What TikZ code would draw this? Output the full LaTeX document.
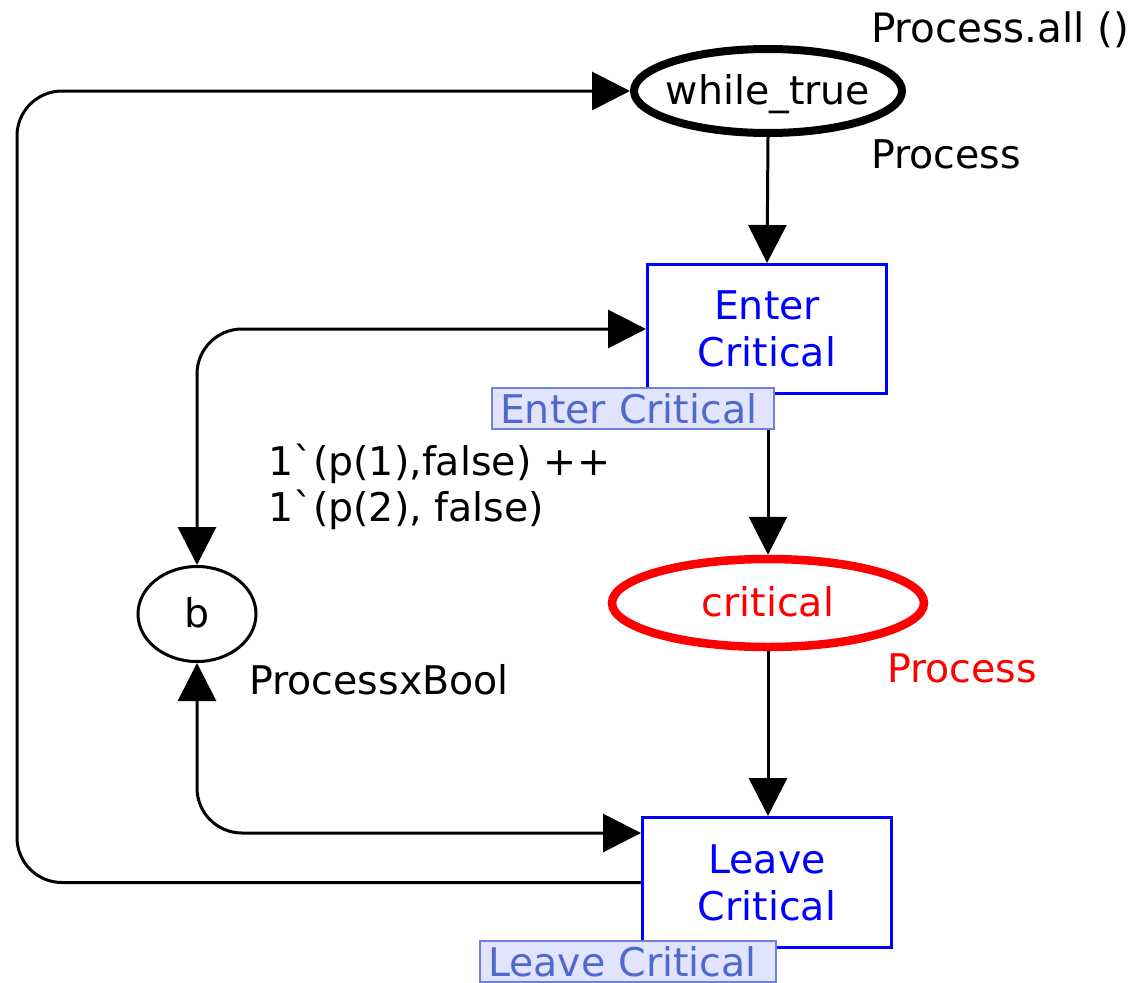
\documentclass[tikz,border=0pt]{standalone}
\usepackage{fontspec}
\setmainfont{DejaVu Sans}
% same face without the TeX quote mapping, for the literal grave accent
\newfontfamily\rawfont{DejaVu Sans}
\usetikzlibrary{arrows.meta,shapes.geometric}

\definecolor{transblue}{RGB}{0,0,255}
\definecolor{placered}{RGB}{255,0,0}
\definecolor{tagfill}{RGB}{225,228,252}
\definecolor{tagdraw}{RGB}{110,130,220}
\definecolor{tagtext}{RGB}{80,105,205}

% plain grave accent, as used in multiset notation
\newcommand{\msq}{{\rawfont\symbol{96}}}

\tikzset{
  big/.style={font=\fontsize{39.5}{47}\selectfont},
  place/.style={ellipse, draw, big, inner xsep=-10pt, inner ysep=0pt,
    text height=28pt, text depth=2pt},
  trans/.style={rectangle, draw=transblue, text=transblue, line width=3pt, big,
    align=center, inner sep=0pt},
  tag/.style={rectangle, draw=tagdraw, fill=tagfill, text=tagtext, line width=1.5pt,
    big, align=left, inner xsep=8pt, inner ysep=0pt, minimum height=41pt,
    text height=29pt, text depth=0pt},
  inscr/.style={big, inner sep=0pt, anchor=base west},
  arc/.style={line width=3pt, rounded corners=45pt,
    -{Triangle[length=38pt,width=38pt]}},
  biarc/.style={line width=3pt, rounded corners=45pt,
    {Triangle[length=38pt,width=38pt]}-{Triangle[length=38pt,width=38pt]}}
}

\begin{document}
\begin{tikzpicture}[x=1pt, y=-1pt]
\useasboundingbox (0,0) rectangle (1139,982);

% places
\node[place, line width=8pt, minimum width=268pt, minimum height=84pt] (while) at (768,91) {while\_true};
\node[place, draw=placered, text=placered, line width=8.5pt, minimum width=312pt, minimum height=88pt] (critical) at (768,603) {critical};
\node[place, line width=3pt, minimum width=118pt, minimum height=95pt] (b) at (197,614) {b};

% transitions
\node[trans, minimum width=239pt, minimum height=129pt] (enter) at (767,329) {Enter\\Critical};
\node[trans, minimum width=249pt, minimum height=130pt] (leave) at (767,882.5) {Leave\\Critical};

% place inscriptions
\node[inscr, font=\fontsize{40.5}{47}\selectfont] (whileinit) at (871,42) {Process.all ()};
\node[inscr] (whilecol) at (871,168) {Process};
\node[inscr, text=placered] (critcol) at (887,682) {Process};
\node[inscr] (bcol) at (249,694) {ProcessxBool};
\node[inscr, align=left, font=\fontsize{39.5}{46}\selectfont] (binit) at (268,521)
  {1\msq(p(1),false) ++\\1\msq(p(2), false)};

% loop column
\coordinate (loopx) at (17,500);

% arcs
\draw[arc] (while.south) -- (enter.north);
\draw[arc] (enter.south -| critical.north) -- (critical.north);
\draw[arc] (critical.south) -- (critical.south |- leave.north);
\draw[biarc] (b.north) |- (enter.west);
\draw[biarc] (b.south) |- ([yshift=49.5pt]leave.west);
\draw[arc] (leave.west) -- (leave.west -| loopx) |- (while.west);

% transition name tags, on top of the transition borders
\node[tag, text width=266pt] (entertag) at (633,408.5) {Enter Critical};
\node[tag, text width=280pt] (leavetag) at (628,961.5) {Leave Critical};
\end{tikzpicture}
\end{document}
